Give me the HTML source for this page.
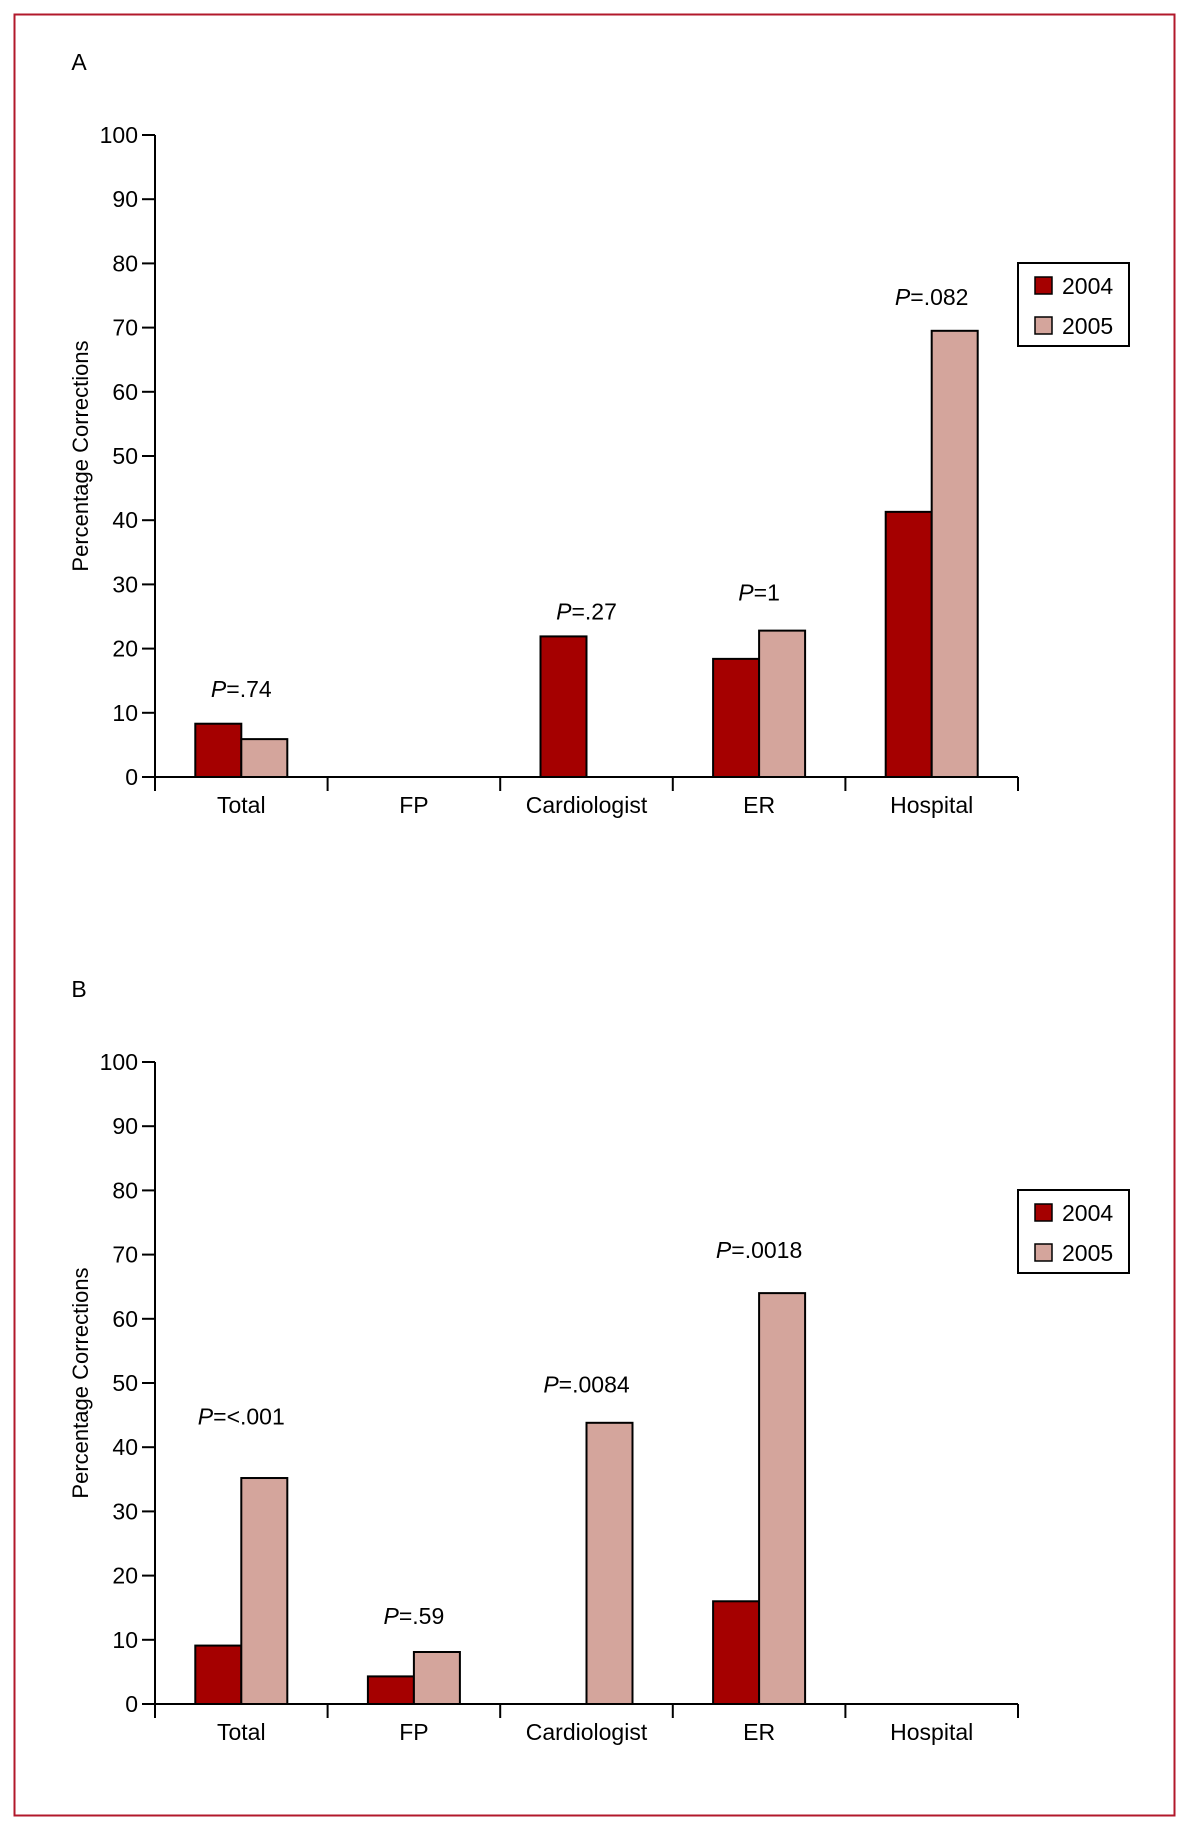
<!DOCTYPE html>
<html><head><meta charset="utf-8"><style>
html,body{margin:0;padding:0;background:#fff;}
svg{display:block;font-family:"Liberation Sans Narrow","Liberation Sans",sans-serif;}
</style></head><body>
<svg id="svg" width="1190" height="1830" viewBox="0 0 1190 1830">
<rect x="14.5" y="14.5" width="1160" height="1801" fill="#fff" stroke="#b2182b" stroke-width="2"/>
</svg>
<script>
const categories = ["Total","FP","Cardiologist","ER","Hospital"];
const seriesNames = ["2004","2005"];
const a2004 = [8.3, 0, 21.9, 18.4, 41.3];
const a2005 = [5.9, 0, 0, 22.8, 69.5];
const aPLabels = ["=.74", "", "=.27", "=1", "=.082"];
const aPAt = [12.5, 0, 24.5, 27.5, 73.5];
const b2004 = [9.1, 4.3, 0, 16.0, 0];
const b2005 = [35.2, 8.1, 43.8, 64.0, 0];
const bPLabels = ["=<.001", "=.59", "=.0084", "=.0018", ""];
const bPAt = [43.5, 12.5, 48.5, 69.5, 0];
const yTicks = [0,10,20,30,40,50,60,70,80,90,100];

const NS = "http://www.w3.org/2000/svg";
const svg = document.getElementById("svg");
const colors = ["#a50000", "#d4a59c"];
function mk(tag, attrs, parent){
  const e = document.createElementNS(NS, tag);
  for (const k in attrs) e.setAttribute(k, attrs[k]);
  (parent||svg).appendChild(e); return e;
}
function chart(panel, top0, v04, v05, pl, pat, prefix){
  const g = mk("g", {});
  
  
  const x0 = 155, x1 = 1018, yBase = top0, yTop = top0 - 642;
  const y = v => yBase - v / 100 * (yBase - yTop);
  const cw = (x1 - x0) / categories.length;
  const cx = i => x0 + cw * (i + 0.5);
  const bw = 46;
  const lab = mk("text", {x:79, y: yTop - 65, "font-size":23, fill:"#000", "text-anchor":"middle"}, g);
  lab.textContent = panel;
  
  
  const ax = mk("line", {x1:x0, y1:yTop, x2:x0, y2:yBase, stroke:"#000", "stroke-width":2}, g);
  
  
  yTicks.forEach(t => {
    mk("line", {x1:x0-13, y1:y(t), x2:x0, y2:y(t), stroke:"#000", "stroke-width":2}, g);
    const tx = mk("text", {x:x0-17, y:y(t)+8, "font-size":23, "text-anchor":"end", fill:"#000"}, g);
    tx.textContent = t;
    
    
  });
  const yt = mk("text", {x:0, y:0, "font-size":22, "text-anchor":"middle", fill:"#000",
    transform:"translate(88," + ((yTop+yBase)/2) + ") rotate(-90)"}, g);
  yt.textContent = "Percentage Corrections";
  
  
  categories.forEach((c, i) => {
    [v04[i], v05[i]].forEach((v, s) => {
      if (v <= 0) return;
      const r = mk("rect", {x: cx(i) - bw + s*bw, y: y(v), width: bw, height: yBase - y(v),
        fill: colors[s], stroke:"#000", "stroke-width":2}, g);
      
      
    });
    if (pl[i]) {
      const t = mk("text", {x: cx(i), y: y(pat[i]), "font-size":23, "text-anchor":"middle", fill:"#000"}, g);
      const ip = mk("tspan", {"font-style":"italic"}, t); ip.textContent = "P";
      const rest = mk("tspan", {}, t); rest.textContent = pl[i];
      
      
    }
    const xl = mk("text", {x: cx(i), y: yBase + 36, "font-size":23, "text-anchor":"middle", fill:"#000"}, g);
    xl.textContent = c;
    
    
  });
  const xa = mk("line", {x1:x0, y1:yBase, x2:x1, y2:yBase, stroke:"#000", "stroke-width":2}, g);
  
  
  for (let i = 0; i <= categories.length; i++) {
    mk("line", {x1:x0+cw*i, y1:yBase, x2:x0+cw*i, y2:yBase+14, stroke:"#000", "stroke-width":2}, g);
  }
  const ly = yTop + 128;
  const lg = mk("g", {}, g);
  
  
  mk("rect", {x:1018, y:ly, width:111, height:83, fill:"#fff", stroke:"#000", "stroke-width":2}, lg);
  seriesNames.forEach((n, s) => {
    const e = mk("g", {}, lg);
    
    
    mk("rect", {x:1035, y:ly+14+s*40, width:17, height:17, fill:colors[s], stroke:"#000", "stroke-width":1.5}, e);
    const t = mk("text", {x:1062, y:ly+31+s*40, "font-size":23, fill:"#000"}, e);
    t.textContent = n;
  });
}
chart("A", 777, a2004, a2005, aPLabels, aPAt, "panel-a");
chart("B", 1704, b2004, b2005, bPLabels, bPAt, "panel-b");
</script>
</body></html>
